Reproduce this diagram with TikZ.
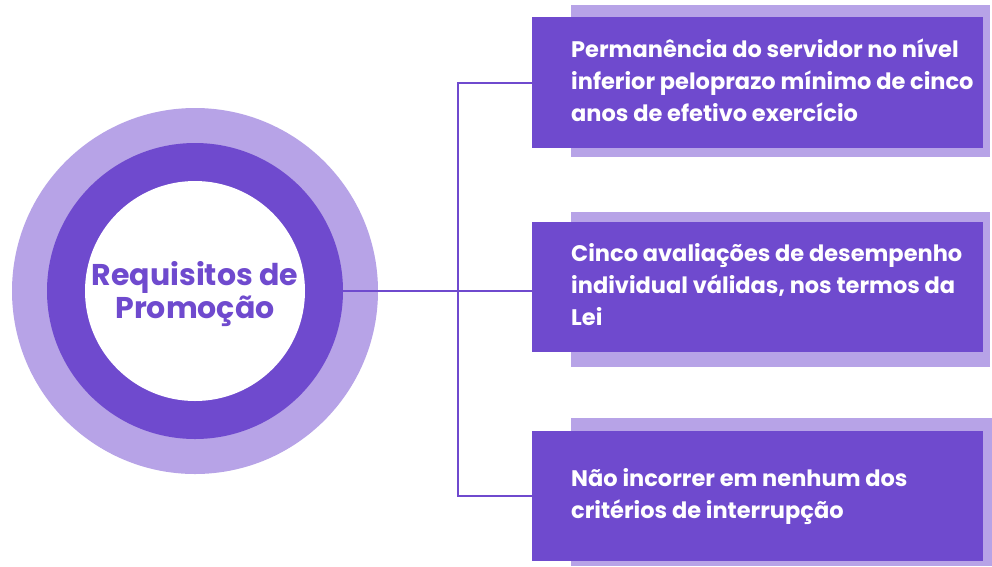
\documentclass[tikz,border=0pt]{standalone}
\usepackage{fontspec}
\setmainfont{Poppins}
\definecolor{dpurple}{HTML}{6F4ACE}
\definecolor{lpurple}{HTML}{B7A3E7}
\tikzset{
  lightbox/.style={fill=lpurple, draw=none, anchor=north west, inner sep=0pt},
  darkbox/.style={fill=dpurple, draw=none, anchor=north west, inner sep=0pt},
  boxtext/.style={anchor=west, align=left, inner sep=0pt, text=white,
    font=\fontsize{22.5}{32}\selectfont\bfseries},
  conn/.style={draw=dpurple, line width=2.2pt},
}
\begin{document}
\begin{tikzpicture}[x=1pt,y=-1pt]
\useasboundingbox (0,0) rectangle (992,566);
% shadow boxes
\node[lightbox, minimum width=419pt, minimum height=152pt] (s1) at (571,5) {};
\node[lightbox, minimum width=419pt, minimum height=155pt] (s2) at (571,212) {};
\node[lightbox, minimum width=421pt, minimum height=148pt] (s3) at (571,418) {};
% main boxes
\node[darkbox, minimum width=451pt, minimum height=131pt] (b1) at (532,17) {};
\node[darkbox, minimum width=451pt, minimum height=130pt] (b2) at (532,222) {};
\node[darkbox, minimum width=451pt, minimum height=130pt] (b3) at (532,431) {};
\node[boxtext] (t1) at (571,80) {Permanência do servidor no nível\\inferior peloprazo mínimo de cinco\\anos de efetivo exercício};
\node[boxtext] (t2) at (571,285) {Cinco avaliações de desempenho\\individual válidas, nos termos da\\Lei};
\node[boxtext] (t3) at (571,497) {Não incorrer em nenhum dos\\critérios de interrupção};
% circles
\node[circle, fill=lpurple, minimum size=366pt, inner sep=0pt] (ring) at (195,291) {};
\coordinate (j) at (458,291);
\node[circle, fill=dpurple, minimum size=296pt, inner sep=0pt] (c) at (195,291) {};
\draw[conn] (c.east) -- (b2.west |- c.east);
\draw[conn] (b1.west) -| (j) |- (b3.west);
\node[circle, fill=white, minimum size=220pt, inner sep=0pt] (cw) at (195,291) {};
\node[align=center, text=dpurple, inner sep=0pt, font=\fontsize{30}{33}\selectfont\bfseries] (title) at (195,294) {Requisitos de\\Promoção};
\end{tikzpicture}
\end{document}
